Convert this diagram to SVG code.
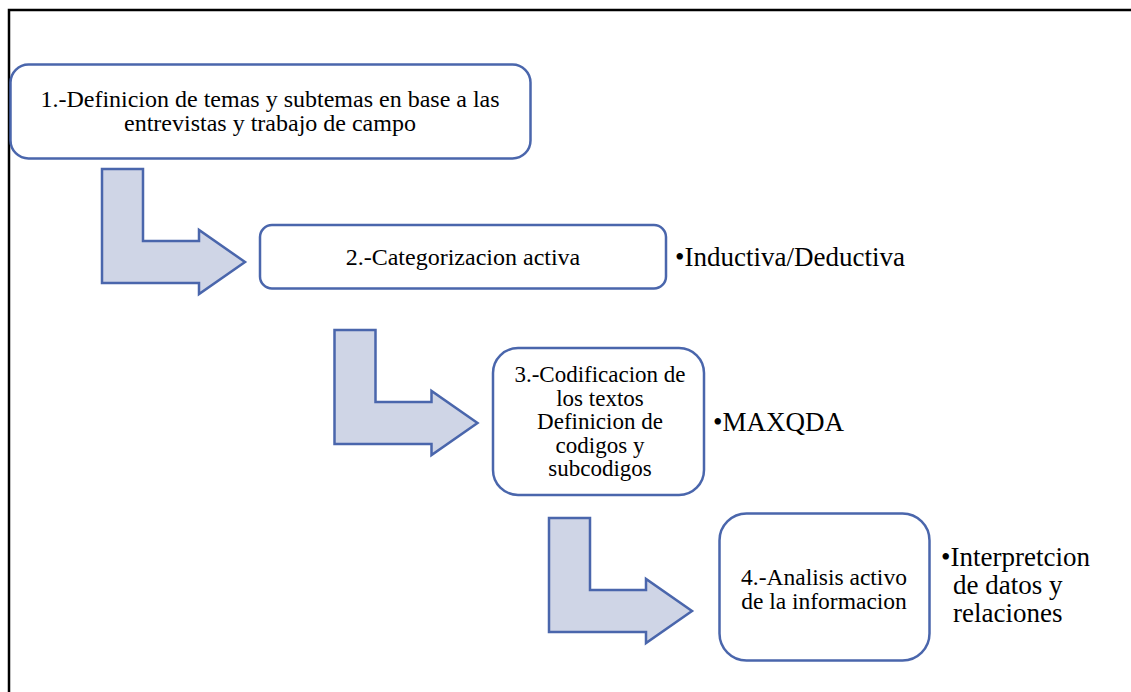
<svg xmlns="http://www.w3.org/2000/svg" width="1131" height="692" viewBox="0 0 1131 692">
<style>
  .frame { fill: none; stroke: #000; stroke-width: 2.5; }
  .box { fill: #fff; stroke: #4a66ac; stroke-width: 2.5; }
  .arrow { fill: #cfd5e6; stroke: #4a66ac; stroke-width: 2.5; stroke-linejoin: miter; }
</style>
<defs>
  <path id="bent" d="M0,0 H41 V72 H97 V61 L143,93 L97,125 V114 H0 Z"/>
</defs>
<rect width="1131" height="692" fill="#fff"/>
<path class="frame" d="M9,692 V10 H1131"/>

<g id="connectors">
  <use href="#bent" class="arrow" transform="translate(102,169)"/>
  <use href="#bent" class="arrow" transform="translate(334.5,330)"/>
  <use href="#bent" class="arrow" transform="translate(549,518)"/>
</g>

<g id="node1" font-family="'Liberation Serif', 'Times New Roman', serif" font-size="24" text-anchor="middle" fill="#000">
  <rect class="box" x="10.5" y="64.5" width="520" height="94" rx="18"/>
  <text x="270" y="107" font-family="Liberation Serif, serif">1.-Definicion de temas y subtemas en base a las</text>
  <text x="270" y="131" font-family="Liberation Serif, serif">entrevistas y trabajo de campo</text>
</g>

<g id="node2" font-family="'Liberation Serif', 'Times New Roman', serif" fill="#000">
  <rect class="box" x="260" y="225" width="406" height="63.5" rx="12"/>
  <text x="463" y="265" font-size="24" text-anchor="middle" font-family="Liberation Serif, serif">2.-Categorizacion activa</text>
  <text x="675" y="266" font-size="27" font-family="Liberation Serif, serif">•Inductiva/Deductiva</text>
</g>

<g id="node3" font-family="'Liberation Serif', 'Times New Roman', serif" fill="#000">
  <rect class="box" x="493" y="348" width="211" height="147" rx="25"/>
  <g font-size="23" text-anchor="middle">
    <text x="600" y="382" font-family="Liberation Serif, serif">3.-Codificacion de</text>
    <text x="600" y="405.5" font-family="Liberation Serif, serif">los textos</text>
    <text x="600" y="429" font-family="Liberation Serif, serif">Definicion de</text>
    <text x="600" y="452.5" font-family="Liberation Serif, serif">codigos y</text>
    <text x="600" y="476" font-family="Liberation Serif, serif">subcodigos</text>
  </g>
  <text x="713" y="431" font-size="27" font-family="Liberation Serif, serif">•MAXQDA</text>
</g>

<g id="node4" font-family="'Liberation Serif', 'Times New Roman', serif" fill="#000">
  <rect class="box" x="719.5" y="513.5" width="210" height="147" rx="27"/>
  <g font-size="23.5" text-anchor="middle">
    <text x="824" y="585" font-family="Liberation Serif, serif">4.-Analisis activo</text>
    <text x="824" y="609" font-family="Liberation Serif, serif">de la informacion</text>
  </g>
  <g font-size="27">
    <text x="941" y="566" font-family="Liberation Serif, serif">•Interpretcion</text>
    <text x="953" y="594" font-family="Liberation Serif, serif">de datos y</text>
    <text x="953" y="622" font-family="Liberation Serif, serif">relaciones</text>
  </g>
</g>
</svg>
